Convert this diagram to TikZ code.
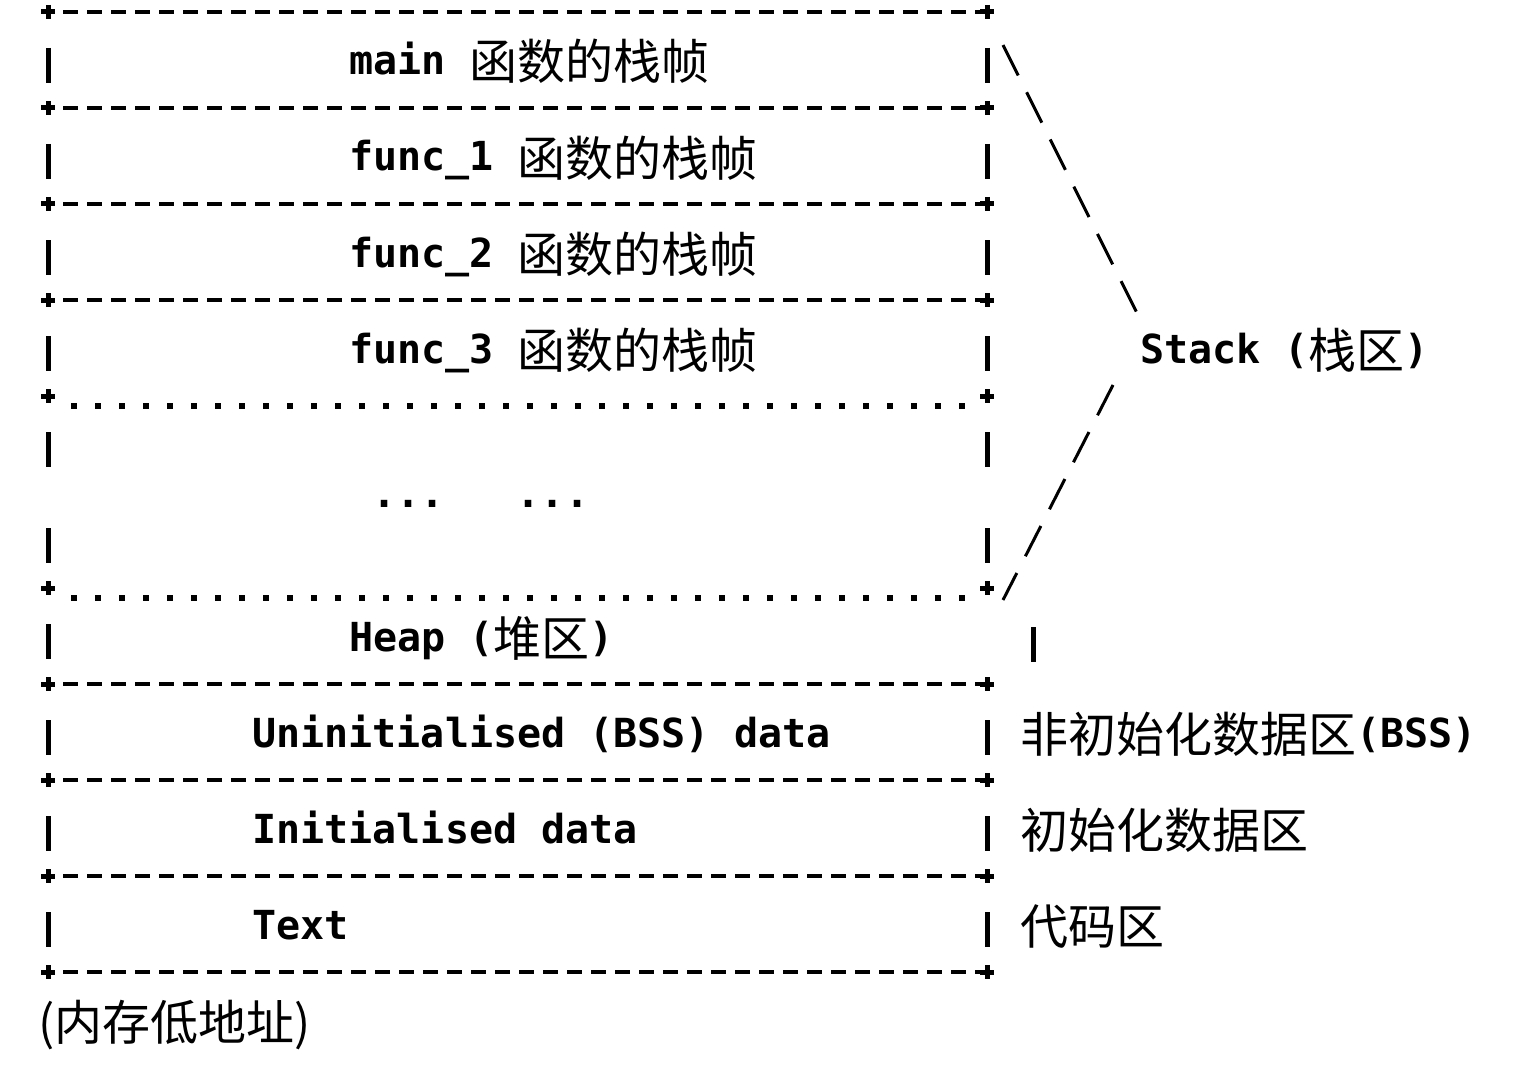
\documentclass[tikz,border=0pt]{standalone}
\usepackage{fontspec}
\setmonofont{DejaVu Sans Mono}
\newfontfamily\cjk{Noto Sans CJK SC}
\newcommand\zh[1]{\raisebox{-2.5pt}{\cjk\mdseries\fontsize{24}{28}\selectfont #1}}

\tikzset{
  cell/.style={anchor=base west, inner sep=0pt, font=\ttfamily\bfseries\fontsize{20}{24}\selectfont},
  rowline/.style={line width=2pt, dash pattern=on 7.5pt off 4.5pt},
  dotline/.style={line width=3pt, dash pattern=on 3pt off 9pt},
  plusmark/.style={line width=2.5pt},
  bar/.style={line width=2.5pt},
  stackline/.style={line width=1.5pt, dash pattern=on 17pt off 9.4pt},
}

\begin{document}
\begin{tikzpicture}[x=0.5pt,y=-0.5pt]
  \useasboundingbox[fill=white] (0,0) rectangle (1534,1064);

  % borders between the areas
  \foreach \k in {0,2,4,6,14,16,18,20}
    \draw[rowline] (63,{12+48*\k}) -- (980,{12+48*\k});
  \foreach \k in {8,12}
    \draw[dotline] (71,{22+48*\k}) -- (975,{22+48*\k});
  \foreach \k in {0,2,4,6,8,12,14,16,18,20}
    \foreach \x in {48,987}
      \draw[plusmark] (\x-7,{12+48*\k}) -- (\x+7,{12+48*\k})
                      (\x,{5+48*\k}) -- (\x,{19+48*\k});

  % side bars
  \foreach \k in {1,3,5,7,9,11,15,17,19}
    \foreach \x in {48,987}
      \draw[bar] (\x,{48*\k}) -- (\x,{35+48*\k});
  \draw[bar] (48,624) -- (48,659);
  \draw[bar] (1033,627) -- (1033,662);

  % areas
  \node[cell] (main) at (349,75) {main \zh{函数的栈帧}};
  \foreach \i/\k in {1/3,2/5,3/7}
    \node[cell] (func\i) at (349,{27+48*\k}) {func\_\i{} \zh{函数的栈帧}};
  \node[cell] (gap) at (372,507) {...\phantom{...}...};
  \node[cell] (heap) at (349,651) {Heap (\zh{堆区})};
  \node[cell] (bss) at (252,747) {Uninitialised (BSS) data};
  \node[cell] (data) at (252,843) {Initialised data};
  \node[cell] (text) at (252,939) {Text};
  \node[cell] (low) at (38,1035) {\zh{(内存低地址)}};

  % right side
  \node[cell] (bssname) at (1020,747) {\zh{非初始化数据区}(BSS)};
  \node[cell] (dataname) at (1020,843) {\zh{初始化数据区}};
  \node[cell] (textname) at (1020,939) {\zh{代码区}};

  \node[cell] (stack) at (1140,363) {Stack (\zh{栈区})};
  \coordinate (stktop) at (1003,45);
  \coordinate (stkbot) at (1003,600);
  \draw[stackline] (stktop) -- ([shift={(-2,-48)}]stack.base west);
  \draw[stackline] ([shift={(-27,22)}]stack.base west) -- (stkbot);
\end{tikzpicture}
\end{document}
